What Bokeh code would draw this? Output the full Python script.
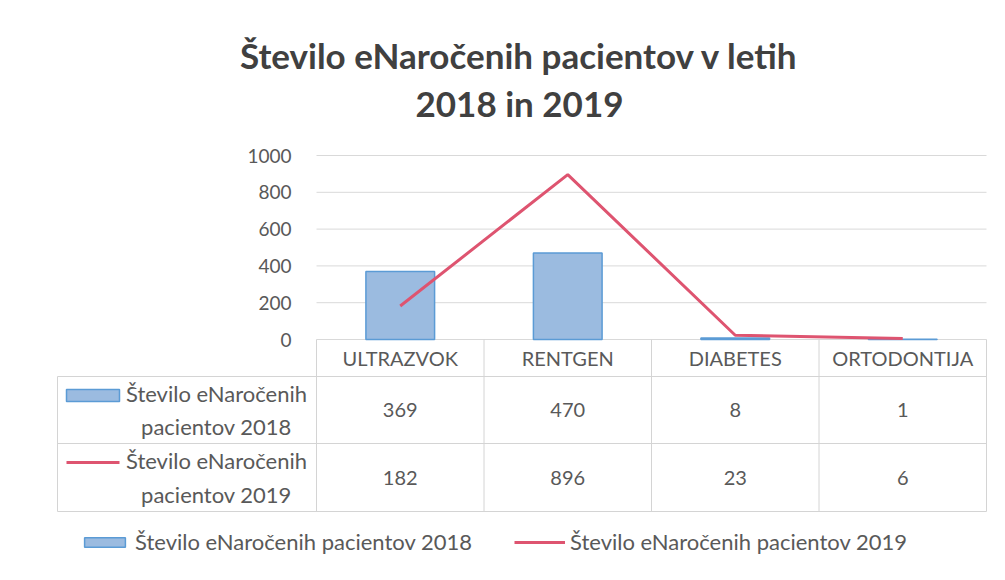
from bokeh.plotting import figure
from bokeh.models import Range1d, Legend, LegendItem
from bokeh.embed import file_html
from bokeh.resources import INLINE
from bokeh.core.properties import value

# ---------------- data ----------------
categories = ["ULTRAZVOK", "RENTGEN", "DIABETES", "ORTODONTIJA"]
values_2018 = [369, 470, 8, 1]
values_2019 = [182, 896, 23, 6]
series_names = ["Število eNaročenih pacientov 2018", "Število eNaročenih pacientov 2019"]
y_ticks = [0, 200, 400, 600, 800, 1000]
title_lines = ["Število eNaročenih pacientov v letih", "2018 in 2019"]

# ---------------- style / layout ----------------
FONT = "Lato"
TEXT = "#595959"
TITLE_C = "#404040"
BAR_FILL = "#9bbbe0"
BAR_LINE = "#5b9bd5"
LINE_C = "#de5470"
GRID = "#d9d9d9"
TABLE_LINE = "#d4d4d4"

W, H = 989, 564
PLOT_LEFT, PLOT_RIGHT = 316, 986      # plot area, px
Y0_PX, YTOP_PX = 339, 155             # px of value 0 and value 1000
YMAX = 1000
TABLE_LEFT = 57
ROWS_PX = [339, 376, 443, 511]        # table row boundaries, px

n = len(categories)
CAT_PX = (PLOT_RIGHT - PLOT_LEFT) / n
PX_PER_UNIT = (Y0_PX - YTOP_PX) / YMAX

p = figure(width=W, height=H,
           x_range=Range1d(-PLOT_LEFT / CAT_PX, (W - PLOT_LEFT) / CAT_PX),
           y_range=Range1d(-(H - Y0_PX) / PX_PER_UNIT, Y0_PX / PX_PER_UNIT),
           output_backend="svg", toolbar_location=None,
           x_axis_location=None, y_axis_location=None,
           min_border=0)
p.extra_x_ranges = {"px": Range1d(0, W)}
p.extra_y_ranges = {"px": Range1d(H, 0)}
p.outline_line_color = None
p.grid.visible = False
p.grid.grid_line_color = None
p.background_fill_color = "white"
p.border_fill_color = "white"

# gridlines and value-axis labels
p.segment(x0=[0] * len(y_ticks), x1=[n] * len(y_ticks), y0=y_ticks, y1=y_ticks,
          line_color=GRID, line_width=1)
p.text(x=[291] * len(y_ticks), y=y_ticks, text=[str(v) for v in y_ticks],
       x_range_name="px", text_align="right", text_baseline="middle",
       text_font=value(FONT), text_font_size="19px", text_color=TEXT)

# series
xc = [i + 0.5 for i in range(n)]
p.vbar(x=xc, top=values_2018, bottom=0, width=0.41, fill_color=BAR_FILL,
       line_color=BAR_LINE, line_width=1.5)
p.line(x=xc, y=values_2019, line_color=LINE_C, line_width=3)

# title
p.text(x=[519, 519], y=[54, 102], text=title_lines, x_range_name="px", y_range_name="px",
       text_align="center", text_baseline="middle", text_font=value(FONT),
       text_font_style="bold", text_font_size="35px", text_color=TITLE_C)

# data table rules
a = (PLOT_LEFT - TABLE_LEFT) / CAT_PX
p.segment(x0=[-a] * 3, x1=[n] * 3, y0=ROWS_PX[1:], y1=ROWS_PX[1:], y_range_name="px",
          line_color=TABLE_LINE, line_width=1)
p.segment(x0=list(range(n + 1)), x1=list(range(n + 1)), y0=[ROWS_PX[0]] * (n + 1),
          y1=[ROWS_PX[3]] * (n + 1), y_range_name="px", line_color=TABLE_LINE, line_width=1)
p.segment(x0=[-a], x1=[-a], y0=[ROWS_PX[1]], y1=[ROWS_PX[3]], y_range_name="px",
          line_color=TABLE_LINE, line_width=1)

row_c = [(ROWS_PX[i] + ROWS_PX[i + 1]) / 2 for i in range(3)]
kw = dict(y_range_name="px", text_align="center", text_baseline="middle",
          text_font=value(FONT), text_color=TEXT)
p.text(x=xc, y=[row_c[0]] * n, text=categories, text_font_size="20px", **kw)
p.text(x=xc, y=[row_c[1]] * n, text=[str(v) for v in values_2018], text_font_size="20px", **kw)
p.text(x=xc, y=[row_c[2]] * n, text=[str(v) for v in values_2019], text_font_size="20px", **kw)

p.text(x=[216, 216], y=row_c[1:], x_range_name="px",
       text=[s.replace(" pacientov", "\npacientov") for s in series_names],
       text_line_height=1.25, text_font_size="22px", **kw)

# legend keys inside the table
r_bar = p.rect(x=[92.5], y=[395], width=[53], height=[12], x_range_name="px", y_range_name="px",
               fill_color=BAR_FILL, line_color=BAR_LINE, line_width=1.5)
r_line = p.segment(x0=[66], x1=[119], y0=[462], y1=[462], x_range_name="px", y_range_name="px",
                   line_color=LINE_C, line_width=3)

legend = Legend(items=[LegendItem(label=series_names[0], renderers=[r_bar]),
                       LegendItem(label=series_names[1], renderers=[r_line])],
                orientation="horizontal", location=(79, 9), glyph_width=51, glyph_height=12,
                label_text_font=FONT, label_text_font_size="22px", label_text_color=TEXT,
                label_standoff=5, spacing=42, padding=0, margin=0,
                border_line_color=None, background_fill_alpha=0)
p.add_layout(legend)

open("out.html", "w").write(file_html(p, INLINE))
